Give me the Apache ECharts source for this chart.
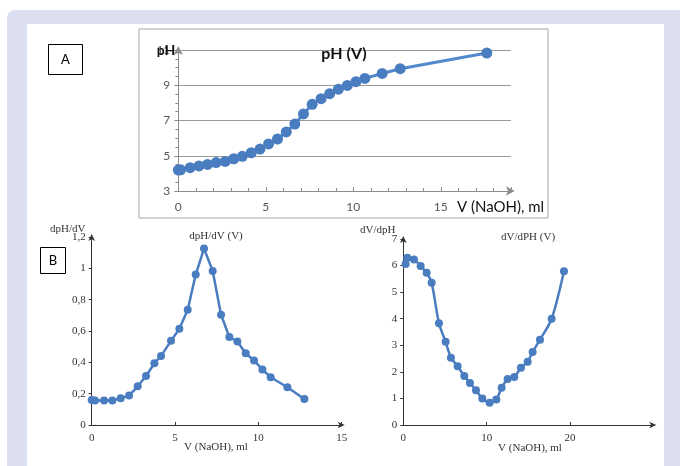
<!DOCTYPE html>
<html>
<head>
<meta charset="utf-8">
<script src="https://cdn.jsdelivr.net/npm/echarts@6/dist/echarts.min.js"></script>
<style>
  html, body { margin: 0; padding: 0; background: #fff; }
  #main { width: 680px; height: 466px; }
</style>
</head>
<body>
<div id="main"></div>
<script>
// A: pH (V)
var volA = [0, 0.13, 0.68, 1.18, 1.67, 2.16, 2.68, 3.17, 3.66, 4.17, 4.67, 5.16, 5.67, 6.17, 6.66, 7.15, 7.65, 8.16, 8.65, 9.15, 9.66, 10.15, 10.66, 11.65, 12.68, 17.63]
var phA = [4.19, 4.2, 4.32, 4.42, 4.51, 4.61, 4.68, 4.83, 4.97, 5.17, 5.38, 5.67, 5.95, 6.35, 6.8, 7.37, 7.92, 8.24, 8.52, 8.78, 8.99, 9.2, 9.39, 9.67, 9.94, 10.83]

// B: dpH/dV (V)
var volB = [0, 0.2, 0.74, 1.24, 1.74, 2.24, 2.76, 3.26, 3.76, 4.16, 4.76, 5.26, 5.76, 6.24, 6.74, 7.26, 7.76, 8.26, 8.74, 9.24, 9.74, 10.24, 10.74, 11.74, 12.76]
var dphB = [0.16, 0.156, 0.156, 0.156, 0.17, 0.188, 0.247, 0.313, 0.394, 0.441, 0.537, 0.614, 0.736, 0.96, 1.126, 0.983, 0.704, 0.561, 0.533, 0.458, 0.412, 0.354, 0.305, 0.241, 0.166]

// C: dV/dpH (V)
var volC = [0.28, 0.48, 1.28, 2.08, 2.8, 3.4, 4.28, 5.08, 5.72, 6.52, 7.32, 8.0, 8.72, 9.48, 10.36, 11.16, 11.8, 12.52, 13.32, 14.12, 14.92, 15.52, 16.4, 17.8, 19.28]
var dvC = [6.06, 6.29, 6.23, 5.98, 5.73, 5.35, 3.83, 3.13, 2.53, 2.21, 1.84, 1.58, 1.31, 1.0, 0.84, 0.96, 1.4, 1.73, 1.81, 2.15, 2.38, 2.75, 3.21, 4.0, 5.79]

var BLUE = '#4a7dc0'
var SERIF = '"Liberation Serif", "DejaVu Serif", serif'
var SANS = 'Lato, "Open Sans", sans-serif'

function zip (xs, ys) {
  return xs.map(function (x, i) { return [x, ys[i]] })
}

function comma (v) {
  return String(v).replace('.', ',')
}

function txt (x, y, text, font, align, color) {
  return {
    type: 'text', x: x, y: y, z: 10,
    style: { text: text, font: font, fill: color || '#222', align: align || 'center', verticalAlign: 'middle' }
  }
}

var myChart = echarts.init(document.getElementById('main'))

var serifAxis = {
  axisLine: { lineStyle: { color: '#333', width: 1 }, symbol: ['none', 'arrow'], symbolSize: [5, 7], symbolOffset: [0, 3] },
  axisTick: { show: true, inside: true, length: 3, lineStyle: { color: '#333' } },
  axisLabel: { fontFamily: SERIF, fontSize: 11, color: '#333' },
  splitLine: { show: false }
}

var option = {
  animation: false,
  graphic: [
    { type: 'rect', z: -20, shape: { x: 7, y: 10, width: 700, height: 480, r: [8, 0, 0, 0] }, style: { fill: '#dcdff0' } },
    { type: 'rect', z: -19, shape: { x: 27, y: 24, width: 637, height: 460 }, style: { fill: '#ffffff' } },
    { type: 'rect', z: -18, shape: { x: 139, y: 29, width: 409, height: 189 }, style: { fill: '#ffffff', stroke: '#a6a6a6', lineWidth: 1 } },
    { type: 'rect', z: 5, shape: { x: 48.5, y: 44.5, width: 34, height: 30 }, style: { fill: 'none', stroke: '#000', lineWidth: 1 } },
    txt(65.5, 59.5, 'A', '13px ' + SANS, 'center', '#000'),
    { type: 'rect', z: 5, shape: { x: 40.5, y: 247.5, width: 25, height: 26 }, style: { fill: 'none', stroke: '#000', lineWidth: 1 } },
    txt(53, 260.5, 'B', '13px ' + SANS, 'center', '#000'),
    // titles and axis names
    txt(344, 54, 'pH (V)', 'bold 16px ' + SANS, 'center', '#111'),
    txt(166, 50, 'pH', 'bold 14px ' + SANS, 'center', '#111'),
    txt(457, 207, 'V (NaOH), ml', '15px ' + SANS, 'left', '#111'),
    txt(216, 236, 'dpH/dV (V)', '11px ' + SERIF, 'center', '#333'),
    txt(50, 229, 'dpH/dV', '11px ' + SERIF, 'left', '#333'),
    txt(216, 447, 'V (NaOH), ml', '11px ' + SERIF, 'center', '#333'),
    txt(528, 237, 'dV/dPH (V)', '11px ' + SERIF, 'center', '#333'),
    txt(360, 230, 'dV/dpH', '11px ' + SERIF, 'left', '#333'),
    txt(530, 448, 'V (NaOH), ml', '11px ' + SERIF, 'center', '#333')
  ],
  grid: [
    { left: 178.3, top: 50, width: 332.5, height: 141 },
    { left: 91.7, top: 237, width: 250, height: 188 },
    { left: 403.3, top: 239, width: 250, height: 186 }
  ],
  xAxis: [
    {
      gridIndex: 0, type: 'value', min: 0, max: 19, interval: 5,
      axisLine: { lineStyle: { color: '#8c8c8c', width: 1 }, symbol: ['none', 'arrow'], symbolSize: [7, 9], symbolOffset: [0, 4] },
      axisTick: { show: true, inside: true, length: 4, lineStyle: { color: '#8c8c8c' } },
      minorTick: { show: true, splitNumber: 5, length: 3, lineStyle: { color: '#8c8c8c' } },
      axisLabel: { fontFamily: SANS, fontSize: 12, color: '#595959', margin: 10, showMaxLabel: false },
      splitLine: { show: false }
    },
    Object.assign({}, serifAxis, {
      gridIndex: 1, type: 'value', min: 0, max: 15, interval: 5,
      axisLabel: Object.assign({}, serifAxis.axisLabel, { margin: 8 })
    }),
    Object.assign({}, serifAxis, {
      gridIndex: 2, type: 'value', min: 0, max: 30, interval: 10,
      axisLabel: Object.assign({}, serifAxis.axisLabel, { margin: 8, showMaxLabel: false })
    })
  ],
  yAxis: [
    {
      gridIndex: 0, type: 'value', min: 3, max: 11, interval: 2,
      axisLine: { show: true, lineStyle: { color: '#8c8c8c', width: 1 }, symbol: ['none', 'arrow'], symbolSize: [7, 9], symbolOffset: [0, 4] },
      axisTick: { show: true, length: 4, lineStyle: { color: '#8c8c8c' } },
      minorTick: { show: true, splitNumber: 4, length: 3, lineStyle: { color: '#8c8c8c' } },
      axisLabel: { fontFamily: SANS, fontSize: 12, color: '#595959', margin: 8 },
      splitLine: { show: true, lineStyle: { color: '#9a9a9a', width: 1 } }
    },
    Object.assign({}, serifAxis, {
      gridIndex: 1, type: 'value', min: 0, max: 1.2, interval: 0.2,
      axisLine: Object.assign({ show: true }, serifAxis.axisLine),
      axisTick: { show: true, length: 3, lineStyle: { color: '#333' } },
      axisLabel: Object.assign({}, serifAxis.axisLabel, { margin: 6, formatter: comma })
    }),
    Object.assign({}, serifAxis, {
      gridIndex: 2, type: 'value', min: 0, max: 7, interval: 1,
      axisLine: Object.assign({ show: true }, serifAxis.axisLine),
      axisTick: { show: true, length: 3, lineStyle: { color: '#333' } },
      axisLabel: Object.assign({}, serifAxis.axisLabel, { margin: 6 })
    })
  ],
  series: [
    {
      type: 'line', xAxisIndex: 0, yAxisIndex: 0, data: zip(volA, phA),
      symbol: 'circle', symbolSize: 11, showAllSymbol: true,
      lineStyle: { color: '#5288cc', width: 3 },
      itemStyle: { color: BLUE }
    },
    {
      type: 'line', xAxisIndex: 1, yAxisIndex: 1, data: zip(volB, dphB),
      symbol: 'circle', symbolSize: 8, showAllSymbol: true,
      lineStyle: { color: BLUE, width: 2.5 },
      itemStyle: { color: BLUE }
    },
    {
      type: 'line', xAxisIndex: 2, yAxisIndex: 2, data: zip(volC, dvC),
      symbol: 'circle', symbolSize: 8, showAllSymbol: true, smooth: 0.3,
      lineStyle: { color: BLUE, width: 2.5 },
      itemStyle: { color: BLUE }
    }
  ]
}

myChart.setOption(option)
</script>
</body>
</html>
